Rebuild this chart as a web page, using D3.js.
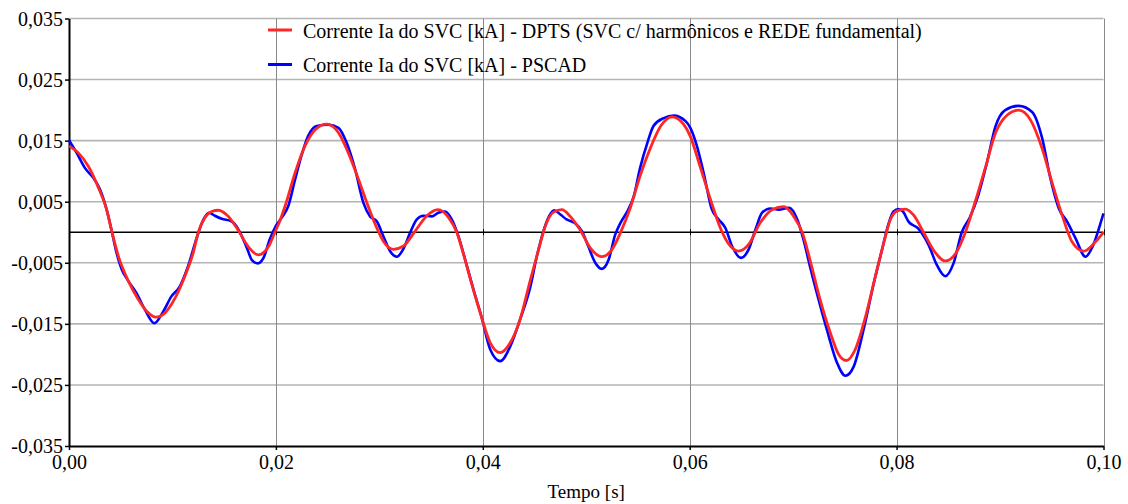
<!DOCTYPE html>
<html>
<head>
<meta charset="utf-8">
<script src="https://cdn.jsdelivr.net/npm/d3@7"></script>
<style>
  body { margin: 0; background: #fff; }
  svg { display: block; font-family: "Liberation Serif", "Times New Roman", serif; }
</style>
</head>
<body>
<div id="chart"></div>
<script>
// DPTS curve (red): time [s], current [kA]
var dptsT = [0, 0.0009, 0.00187, 0.00284, 0.00364, 0.00413, 0.00477, 0.00574, 0.0067, 0.00767, 0.00838, 0.00928,
  0.01025, 0.0112, 0.012, 0.0125, 0.01315, 0.0138, 0.01444, 0.0154, 0.0164, 0.0173, 0.0183, 0.0193, 0.0199,
  0.0203, 0.02089, 0.02185, 0.0228, 0.0238, 0.02492, 0.02605, 0.027, 0.028, 0.0288, 0.0296, 0.0304, 0.03136,
  0.0323, 0.03346, 0.0346, 0.03565, 0.0367, 0.0375, 0.0381, 0.0389, 0.03975, 0.04072, 0.04168, 0.04265, 0.0436,
  0.0446, 0.0454, 0.04604, 0.04684, 0.04765, 0.04845, 0.0494, 0.0504, 0.0515, 0.0525, 0.0533, 0.05426, 0.0552,
  0.0562, 0.0572, 0.0583, 0.0594, 0.06006, 0.061, 0.062, 0.06296, 0.0638, 0.0647, 0.0657, 0.0668, 0.06796,
  0.0691, 0.07005, 0.0709, 0.0717, 0.0726, 0.0736, 0.0744, 0.07515, 0.076, 0.077, 0.07795, 0.07875, 0.0794,
  0.08005, 0.08085, 0.08165, 0.0826, 0.0836, 0.0847, 0.0857, 0.08665, 0.0876, 0.0886, 0.08955, 0.0907, 0.0918,
  0.09294, 0.09407, 0.095, 0.096, 0.09697, 0.0981, 0.0992, 0.1];
var dptsI = [0.0141, 0.0130, 0.0108, 0.0073, 0.0037, 0.0002, -0.0039, -0.0080, -0.0110, -0.0132, -0.0139, -0.0132,
  -0.0108, -0.0072, -0.0034, 0.0000, 0.0024, 0.0034, 0.0036, 0.0026, 0.0002, -0.0023, -0.0037, -0.0023, 0.0000,
  0.0015, 0.0043, 0.0097, 0.0141, 0.0168, 0.0177, 0.0163, 0.0130, 0.0086, 0.0048, 0.0013, -0.0015, -0.0028,
  -0.0023, 0.0002, 0.0027, 0.0037, 0.0024, -0.0001, -0.0034, -0.0083, -0.0132, -0.0181, -0.0197, -0.0181, -0.0143,
  -0.0078, -0.0028, 0.0010, 0.0033, 0.0037, 0.0026, 0.0004, -0.0026, -0.0040, -0.0028, -0.0001, 0.0040, 0.0092,
  0.0138, 0.0174, 0.0189, 0.0177, 0.0157, 0.0108, 0.0054, 0.0007, -0.0020, -0.0031, -0.0020, 0.0015, 0.0037,
  0.0042, 0.0026, -0.0001, -0.0050, -0.0110, -0.0165, -0.0200, -0.0210, -0.0192, -0.0138, -0.0072, -0.0018, 0.0021,
  0.0035, 0.0038, 0.0028, 0.0000, -0.0030, -0.0047, -0.0035, 0.0000, 0.0050, 0.0107, 0.0162, 0.0192, 0.0200,
  0.0184, 0.0137, 0.0083, 0.0028, -0.0016, -0.0031, -0.0016, 0.0000];

// PSCAD curve (blue): time [s], current [kA]
var pscadT = [0, 0.00074, 0.00155, 0.00235, 0.003, 0.00364, 0.00413, 0.0046, 0.0051, 0.00574, 0.0065, 0.00735,
  0.00825, 0.0091, 0.0099, 0.0107, 0.0115, 0.01235, 0.013, 0.01354, 0.0141, 0.01476, 0.0157, 0.0164, 0.0172,
  0.0177, 0.01825, 0.0188, 0.0194, 0.01995, 0.02056, 0.0212, 0.02185, 0.0225, 0.0231, 0.02395, 0.02508, 0.02605,
  0.02685, 0.02766, 0.02846, 0.0291, 0.02975, 0.0304, 0.03104, 0.0317, 0.0323, 0.03297, 0.03362, 0.03427, 0.03507,
  0.0357, 0.03636, 0.037, 0.03765, 0.0383, 0.0391, 0.0399, 0.04072, 0.04168, 0.04265, 0.0436, 0.0446, 0.04523,
  0.0459, 0.0464, 0.0469, 0.0475, 0.0481, 0.0489, 0.04958, 0.0502, 0.05087, 0.0515, 0.05216, 0.0528, 0.0533,
  0.0539, 0.0546, 0.0552, 0.0559, 0.0565, 0.0575, 0.05845, 0.0596, 0.06006, 0.0607, 0.06135, 0.06215, 0.0628,
  0.06345, 0.0641, 0.06496, 0.0657, 0.06635, 0.067, 0.0678, 0.0686, 0.0696, 0.0704, 0.071, 0.0717, 0.0725, 0.0733,
  0.07425, 0.07505, 0.07585, 0.0768, 0.0778, 0.0786, 0.07924, 0.0797, 0.0802, 0.0806, 0.08117, 0.0821, 0.0831,
  0.0839, 0.0847, 0.0855, 0.0863, 0.0871, 0.0879, 0.08875, 0.08955, 0.0905, 0.0918, 0.0931, 0.09407, 0.09487,
  0.09568, 0.0965, 0.0973, 0.09825, 0.09906, 0.0997, 0.1];
var pscadI = [0.0151, 0.0130, 0.0105, 0.0089, 0.0070, 0.0037, 0.0002, -0.0034, -0.0061, -0.0080, -0.0099, -0.0127,
  -0.0149, -0.0130, -0.0105, -0.0089, -0.0056, -0.0009, 0.0021, 0.0032, 0.0027, 0.0022, 0.0018, 0.0004, -0.0026,
  -0.0046, -0.0051, -0.0042, -0.0012, 0.0009, 0.0024, 0.0043, 0.0086, 0.0127, 0.0157, 0.0174, 0.0176, 0.0171,
  0.0146, 0.0103, 0.0048, 0.0026, 0.0018, -0.0007, -0.0031, -0.0040, -0.0028, -0.0001, 0.0021, 0.0027, 0.0026,
  0.0032, 0.0034, 0.0021, -0.0007, -0.0045, -0.0094, -0.0140, -0.0192, -0.0211, -0.0187, -0.0143, -0.0089, -0.0039,
  0.0004, 0.0026, 0.0036, 0.0029, 0.0021, 0.0015, 0.0002, -0.0023, -0.0050, -0.0060, -0.0045, -0.0004, 0.0015,
  0.0032, 0.0059, 0.0105, 0.0146, 0.0174, 0.0187, 0.0191, 0.0182, 0.0171, 0.0141, 0.0097, 0.0037, 0.0021,
  0.0007, -0.0023, -0.0042, -0.0028, 0.0004, 0.0032, 0.0039, 0.0037, 0.0040, 0.0021, -0.0012, -0.0061, -0.0113, -0.0162,
  -0.0214, -0.0235, -0.0220, -0.0160, -0.0083, -0.0028, 0.0015, 0.0034, 0.0038, 0.0034, 0.0017, 0.0006, -0.0021,
  -0.0054, -0.0072, -0.0051, 0.0000, 0.0025, 0.0061, 0.0115, 0.0173, 0.0200, 0.0207, 0.0197, 0.0154, 0.0088,
  0.0039, 0.0017, -0.0010, -0.0040, -0.0019, 0.0014, 0.0031];

var xTicks = [0, 0.02, 0.04, 0.06, 0.08, 0.10];
var yTicks = [-0.035, -0.025, -0.015, -0.005, 0.005, 0.015, 0.025, 0.035];
var legendLabels = ["Corrente Ia do SVC [kA] - DPTS (SVC c/ harmônicos e REDE fundamental)",
  "Corrente Ia do SVC [kA] - PSCAD"];
var xTitle = "Tempo [s]";

var width = 1128, height = 504;
var margin = { top: 18.5, right: 24.5, bottom: 58, left: 69 };

var svg = d3.select("#chart")
  .append("svg")
  .attr("width", width)
  .attr("height", height);

var x = d3.scaleLinear()
  .domain([0, 0.1])
  .range([margin.left, width - margin.right]);

var y = d3.scaleLinear()
  .domain([-0.035, 0.035])
  .range([height - margin.bottom, margin.top]);

var fmtX = function(d) { return d3.format(".2f")(d).replace(".", ","); };
var fmtY = function(d) { return d3.format(".3f")(d).replace(".", ",").replace("−", "-"); };

// horizontal gridlines
svg.append("g")
  .selectAll("line")
  .data(yTicks.filter(d => d > -0.035))
  .enter()
  .append("line")
  .attr("x1", x(0)).attr("x2", x(0.1))
  .attr("y1", d => y(d)).attr("y2", d => y(d))
  .attr("stroke", "#b4b4b4")
  .attr("stroke-width", 1.6);

// vertical gridlines
svg.append("g")
  .selectAll("line")
  .data(xTicks.filter(d => d > 0))
  .enter()
  .append("line")
  .attr("x1", d => Math.round(x(d)) + 0.5).attr("x2", d => Math.round(x(d)) + 0.5)
  .attr("y1", y(0.035)).attr("y2", y(-0.035))
  .attr("stroke", "#8a8a8a")
  .attr("stroke-width", 1);

// zero line with small ticks
svg.append("line")
  .attr("x1", x(0)).attr("x2", x(0.1))
  .attr("y1", y(0)).attr("y2", y(0))
  .attr("stroke", "#000")
  .attr("stroke-width", 1.3);

svg.append("g")
  .selectAll("line")
  .data(xTicks.filter(d => d > 0))
  .enter()
  .append("line")
  .attr("x1", d => Math.round(x(d)) + 0.5).attr("x2", d => Math.round(x(d)) + 0.5)
  .attr("y1", y(0) - 3).attr("y2", y(0) + 3)
  .attr("stroke", "#000");

// axes
var xAxis = svg.append("g")
  .attr("transform", "translate(0," + y(-0.035) + ")")
  .call(d3.axisBottom(x).tickValues(xTicks).tickFormat(fmtX).tickSize(4).tickSizeOuter(0));
var yAxis = svg.append("g")
  .attr("transform", "translate(" + x(0) + ",0)")
  .call(d3.axisLeft(y).tickValues(yTicks).tickFormat(fmtY).tickSize(4).tickSizeOuter(0));

[xAxis, yAxis].forEach(function(a) {
  a.attr("font-family", null).attr("font-size", 20);
  a.select(".domain").attr("stroke", "#000").attr("stroke-width", 2);
  a.selectAll(".tick line").attr("stroke", "#000").attr("stroke-width", 1.5);
  a.selectAll(".tick text").attr("fill", "#000");
});
xAxis.selectAll(".tick text").attr("dy", "0.95em").attr("y", 4);
yAxis.selectAll(".tick text").attr("x", -6).attr("dy", "0.33em");

// x title
svg.append("text")
  .attr("x", (x(0) + x(0.1)) / 2)
  .attr("y", 498)
  .attr("text-anchor", "middle")
  .style("font-size", "19px")
  .text(xTitle);

// lines
var pscad = pscadT.map((t, i) => ({ t: t, v: pscadI[i] }));
var dpts = dptsT.map((t, i) => ({ t: t, v: dptsI[i] }));

var line = d3.line()
  .x(d => x(d.t))
  .y(d => y(d.v))
  .curve(d3.curveMonotoneX);

svg.append("path")
  .datum(pscad)
  .attr("d", line)
  .attr("fill", "none")
  .attr("stroke", "#0000ff")
  .attr("stroke-width", 2.6);

svg.append("path")
  .datum(dpts)
  .attr("d", line)
  .attr("fill", "none")
  .attr("stroke", "#ff2626")
  .attr("stroke-width", 2.8);

// legend
var legColors = ["#ff2626", "#0000ff"];
var leg = svg.append("g");
legendLabels.forEach(function(lbl, i) {
  var ly = 30 + i * 34.5;
  leg.append("line")
    .attr("x1", 268).attr("x2", 292)
    .attr("y1", ly).attr("y2", ly)
    .attr("stroke", legColors[i])
    .attr("stroke-width", 3);
  leg.append("text")
    .attr("x", 303)
    .attr("y", ly + 7.5)
    .style("font-size", "20px")
    .text(lbl);
});
</script>
</body>
</html>
